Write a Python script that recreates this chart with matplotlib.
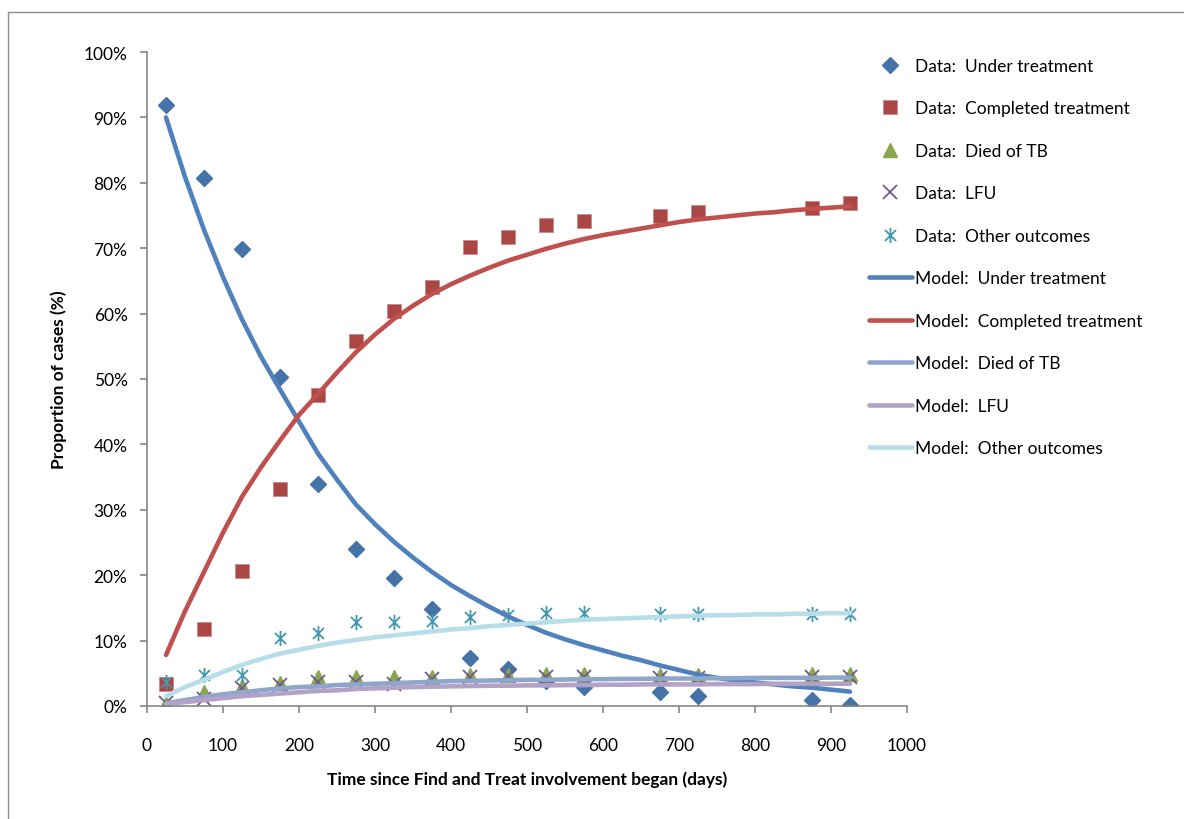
import matplotlib
matplotlib.use("Agg")
import matplotlib.pyplot as plt
from matplotlib.path import Path
from matplotlib.lines import Line2D
from matplotlib.ticker import FuncFormatter, MultipleLocator

plt.rcParams['font.family'] = ['Lato', 'DejaVu Sans']

# observed data, days since involvement began
days = [25, 75, 125, 175, 225, 275, 325, 375, 425, 475, 525, 575, 675, 725, 875, 925]
under_tx = [91.9, 80.8, 69.9, 50.3, 34.0, 24.0, 19.5, 14.8, 7.4, 5.6, 3.8, 2.9, 2.1, 1.5, 0.9, 0.1]
completed = [3.3, 11.7, 20.7, 33.2, 47.5, 55.8, 60.4, 64.0, 70.2, 71.7, 73.5, 74.2, 74.9, 75.5, 76.1, 76.9]
died = [0.4, 2.1, 3.0, 3.5, 4.4, 4.5, 4.5, 4.5, 4.8, 4.8, 4.9, 4.9, 4.7, 4.8, 4.9, 4.9]
lfu = [0.5, 1.1, 2.7, 3.2, 3.6, 3.6, 3.4, 4.1, 4.4, 4.6, 4.4, 4.4, 4.3, 4.3, 4.4, 4.4]
other = [3.6, 4.7, 4.7, 10.4, 11.2, 12.8, 12.8, 13.0, 13.6, 13.9, 14.2, 14.2, 14.1, 14.1, 14.1, 14.1]

# model output, every 25 days
model_days = list(range(25, 926, 25))
m_under = [90.0, 80.9, 72.8, 65.6, 59.1, 53.4, 48.4, 43.5, 38.6, 34.6, 30.8, 27.8, 25.1, 22.7, 20.5,
           18.5, 16.8, 15.2, 13.7, 12.4, 11.2, 10.2, 9.3, 8.5, 7.7, 7.0, 6.2, 5.5, 4.8, 4.3,
           3.9, 3.6, 3.3, 3.0, 2.8, 2.5, 2.2]
m_completed = [7.8, 14.5, 20.5, 26.5, 32.0, 36.5, 40.6, 44.5, 47.7, 51.0, 54.1, 56.8, 59.2, 61.2, 63.0,
               64.5, 65.8, 67.0, 68.1, 69.0, 69.9, 70.7, 71.4, 72.0, 72.5, 73.0, 73.5, 74.0, 74.4, 74.7,
               75.0, 75.3, 75.5, 75.8, 76.0, 76.2, 76.4]
m_died = [0.4, 0.9, 1.4, 1.8, 2.1, 2.4, 2.7, 2.9, 3.0, 3.2, 3.3, 3.4, 3.5, 3.6, 3.7,
          3.8, 3.85, 3.9, 3.95, 4.0, 4.0, 4.05, 4.1, 4.1, 4.15, 4.15, 4.2, 4.2, 4.2, 4.25,
          4.25, 4.3, 4.3, 4.3, 4.3, 4.35, 4.35]
m_lfu = [0.3, 0.6, 0.9, 1.2, 1.5, 1.7, 1.9, 2.1, 2.3, 2.4, 2.6, 2.7, 2.8, 2.9, 2.95,
         3.0, 3.05, 3.1, 3.1, 3.15, 3.15, 3.2, 3.2, 3.25, 3.25, 3.3, 3.3, 3.3, 3.3, 3.35,
         3.35, 3.35, 3.4, 3.4, 3.4, 3.4, 3.4]
m_other = [1.5, 2.9, 4.0, 5.2, 6.3, 7.2, 8.0, 8.6, 9.2, 9.7, 10.1, 10.5, 10.8, 11.1, 11.4,
           11.7, 11.9, 12.2, 12.4, 12.6, 12.8, 13.0, 13.2, 13.3, 13.4, 13.5, 13.6, 13.7, 13.8, 13.9,
           13.9, 14.0, 14.0, 14.1, 14.1, 14.2, 14.2]

# excel style asterisk: vertical bar + x
star = Path([(0, -1), (0, 1), (-0.72, -0.72), (0.72, 0.72), (-0.72, 0.72), (0.72, -0.72)],
            [Path.MOVETO, Path.LINETO, Path.MOVETO, Path.LINETO, Path.MOVETO, Path.LINETO])

fs = 12.5

fig = plt.figure(figsize=(11.84, 8.2), dpi=100)
ax = fig.add_axes([147 / 1184, 1 - 707 / 820, 760 / 1184, 654 / 820])

# outer chart border (top and left only visible)
fig.add_artist(Line2D([8 / 1184, 1.0], [1 - 13 / 820, 1 - 13 / 820], color='#8c8c8c', lw=1))
fig.add_artist(Line2D([8 / 1184, 8 / 1184], [0.0, 1 - 13 / 820], color='#8c8c8c', lw=1))

h1, = ax.plot(days, under_tx, 'D', color='#4572A7', ms=8, mec='#4572A7', label='Data:  Under treatment')
h2, = ax.plot(days, completed, 's', color='#AA4643', ms=10, mec='#c98a88', mew=0.6, label='Data:  Completed treatment')
h3, = ax.plot(days, died, '^', color='#89A54E', ms=10, label='Data:  Died of TB')
h4, = ax.plot(days, lfu, 'x', color='#71588F', ms=10, mew=1.3, label='Data:  LFU')
h5, = ax.plot(days, other, ls='none', marker=star, color='#4198AF', mfc='none', mec='#4198AF',
              ms=11, mew=1.3, label='Data:  Other outcomes')

lw = 3.3
h6, = ax.plot(model_days, m_under, color='#4F81BD', lw=lw, solid_capstyle='round', label='Model:  Under treatment')
h7, = ax.plot(model_days, m_completed, color='#C0504D', lw=lw, solid_capstyle='round', label='Model:  Completed treatment')
h8, = ax.plot(model_days, m_died, color='#8FA6CC', lw=lw, solid_capstyle='round', label='Model:  Died of TB')
h9, = ax.plot(model_days, m_lfu, color='#B3A2C7', lw=lw, solid_capstyle='round', label='Model:  LFU')
h10, = ax.plot(model_days, m_other, color='#B7DEE8', lw=lw, solid_capstyle='round', label='Model:  Other outcomes')

ax.set_xlim(0, 1000)
ax.set_ylim(0, 100)
ax.xaxis.set_major_locator(MultipleLocator(100))
ax.yaxis.set_major_locator(MultipleLocator(10))
ax.yaxis.set_major_formatter(FuncFormatter(lambda v, p: '{:d}%'.format(int(round(v)))))

for s in ['top', 'right']:
    ax.spines[s].set_visible(False)
for s in ['left', 'bottom']:
    ax.spines[s].set_color('#868686')
    ax.spines[s].set_linewidth(1.2)
ax.tick_params(axis='both', direction='out', length=5, width=1.2, color='#868686',
               labelsize=fs, labelcolor='black')
ax.tick_params(axis='y', pad=9)
ax.tick_params(axis='x', pad=17)

ax.set_xlabel('Time since Find and Treat involvement began (days)', fontsize=fs,
              fontweight='bold', labelpad=13)
ax.set_ylabel('Proportion of cases (%)', fontsize=fs, fontweight='bold', labelpad=12)

leg = ax.legend(handles=[h1, h2, h3, h4, h5, h6, h7, h8, h9, h10], loc='upper left',
                bbox_to_anchor=(869 / 1184, 1 - 59 / 820), bbox_transform=fig.transFigure,
                frameon=False, fontsize=fs, handlelength=2.45, handletextpad=0.2,
                labelspacing=1.525, borderpad=0, borderaxespad=0, numpoints=1)

fig.savefig('out.png', dpi=100)
